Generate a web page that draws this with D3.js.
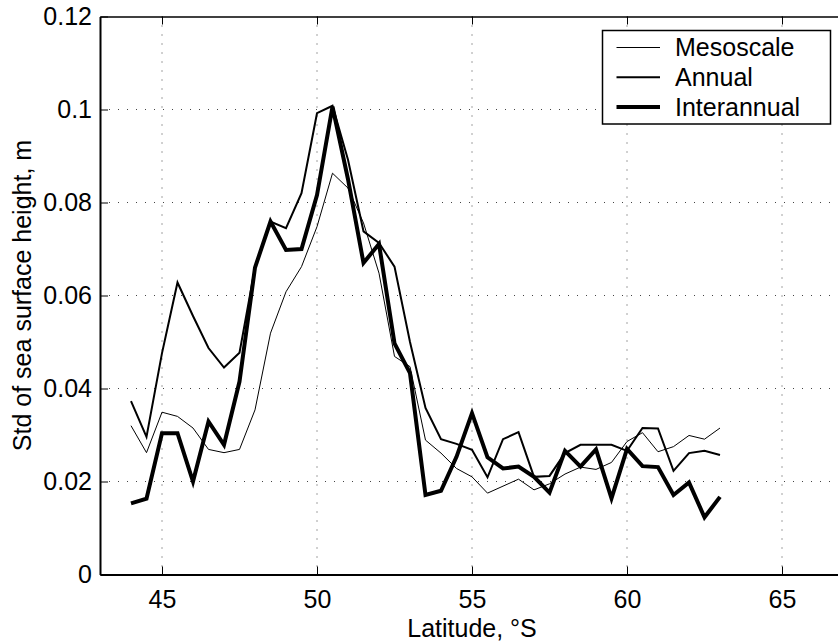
<!DOCTYPE html>
<html>
<head>
<meta charset="utf-8">
<script src="https://cdn.jsdelivr.net/npm/d3@7"></script>
<style>
	body { margin: 0; background: #fff; }
	svg { display: block; }
	text { font-family: "Liberation Sans", Arial, sans-serif; fill: #000; }
</style>
</head>
<body>
<svg width="838" height="644"></svg>
<script>
/* jshint esversion:6 */
/* global d3 */

// latitude, degrees south, every half degree
let latitude = d3.range(44, 63.01, 0.5),
	mesoscale = [
		0.0320, 0.0262, 0.0349, 0.0340, 0.0315, 0.0269, 0.0262, 0.0269,
		0.0354, 0.0519, 0.0608, 0.0662, 0.0748, 0.0863, 0.0831, 0.0756,
		0.0648, 0.0469, 0.0447, 0.0289, 0.0261, 0.0228, 0.0210, 0.0175,
		0.0190, 0.0205, 0.0182, 0.0195, 0.0216, 0.0231, 0.0226, 0.0241,
		0.0286, 0.0305, 0.0264, 0.0275, 0.0299, 0.0291, 0.0315
	],
	annual = [
		0.0373, 0.0296, 0.0476, 0.0628, 0.0556, 0.0487, 0.0445, 0.0477,
		0.0660, 0.0759, 0.0745, 0.0820, 0.0992, 0.1008, 0.0892, 0.0738,
		0.0713, 0.0662, 0.0500, 0.0358, 0.0291, 0.0281, 0.0268, 0.0209,
		0.0291, 0.0306, 0.0210, 0.0212, 0.0261, 0.0279, 0.0279, 0.0279,
		0.0266, 0.0315, 0.0314, 0.0223, 0.0261, 0.0266, 0.0257
	],
	interannual = [
		0.0153, 0.0163, 0.0304, 0.0304, 0.0200, 0.0329, 0.0279, 0.0415,
		0.0660, 0.0759, 0.0698, 0.0700, 0.0816, 0.1006, 0.0850, 0.0670,
		0.0711, 0.0497, 0.0433, 0.0171, 0.0180, 0.0253, 0.0347, 0.0252,
		0.0228, 0.0232, 0.0210, 0.0176, 0.0266, 0.0232, 0.0269, 0.0164,
		0.0270, 0.0233, 0.0231, 0.0171, 0.0198, 0.0123, 0.0167
	],
	seriesNames = ['Mesoscale', 'Annual', 'Interannual'],
	xTicks = [45, 50, 55, 60, 65],
	yTicks = [0, 0.02, 0.04, 0.06, 0.08, 0.1, 0.12];

function chart() {
	var svg = d3.select('svg'),
		margin = {left: 100, top: 16.5, right: -6, bottom: 69.5},
		width = svg.attr('width') - margin.left - margin.right,
		height = svg.attr('height') - margin.top - margin.bottom,
		x = d3.scaleLinear().domain([43, 67]).range([0, width]),
		y = d3.scaleLinear().domain([0, 0.12]).range([height, 0]),
		widths = [1, 2, 4],
		allSeries = [mesoscale, annual, interannual],
		g = svg.append('g').attr('transform', 'translate(' + margin.left + ',' + margin.top + ')'),
		line = d3.line()
			.x(function(d, i) { return x(latitude[i]); })
			.y(function(d) { return y(d); }),
		legend,
		index;

	// dotted grid
	g.selectAll('.vgrid')
		.data(xTicks)
		.enter().append('line')
			.attr('x1', function(d) { return x(d); })
			.attr('x2', function(d) { return x(d); })
			.attr('y1', 0)
			.attr('y2', height)
			.attr('stroke', '#444')
			.attr('stroke-width', 1)
			.attr('stroke-dasharray', '1,8');

	g.selectAll('.hgrid')
		.data(yTicks.slice(1, -1))
		.enter().append('line')
			.attr('x1', 0)
			.attr('x2', width)
			.attr('y1', function(d) { return y(d); })
			.attr('y2', function(d) { return y(d); })
			.attr('stroke', '#444')
			.attr('stroke-width', 1)
			.attr('stroke-dasharray', '1,8');

	// axes, ticks pointing in like matlab
	g.append('g')
		.attr('transform', 'translate(0,' + height + ')')
		.call(d3.axisBottom(x).tickValues(xTicks).tickSizeInner(-8).tickSizeOuter(0).tickPadding(16).tickFormat(d3.format('d')))
		.call(function(a) {
			a.select('.domain').attr('stroke-width', 2);
			a.selectAll('text').style('font-size', '25px');
		});

	g.append('g')
		.call(d3.axisTop(x).tickValues(xTicks).tickSizeInner(-8).tickSizeOuter(0).tickFormat(''))
		.call(function(a) { a.select('.domain').attr('stroke-width', 1.5); });

	g.append('g')
		.call(d3.axisLeft(y).tickValues(yTicks).tickSizeInner(-8).tickSizeOuter(0).tickPadding(8).tickFormat(d3.format('~g')))
		.call(function(a) {
			a.select('.domain').attr('stroke-width', 2);
			a.selectAll('text').style('font-size', '25px');
		});

	// series
	for (index = 0; index < allSeries.length; index++) {
		g.append('path')
			.datum(allSeries[index])
			.attr('fill', 'none')
			.attr('stroke', '#000')
			.attr('stroke-width', widths[index])
			.attr('stroke-linejoin', 'miter')
			.attr('d', line);
	}

	// axis titles
	svg.append('text')
		.attr('x', 472)
		.attr('y', 637)
		.attr('text-anchor', 'middle')
		.style('font-size', '25px')
		.text('Latitude, \u00B0S');

	svg.append('text')
		.attr('transform', 'translate(31,' + (margin.top + height / 2) + ') rotate(-90)')
		.attr('text-anchor', 'middle')
		.style('font-size', '25px')
		.text('Std of sea surface height, m');

	// legend
	legend = svg.append('g').attr('transform', 'translate(602.5,30.5)');
	legend.append('rect')
		.attr('width', 228)
		.attr('height', 93.5)
		.attr('fill', '#fff')
		.attr('stroke', '#000')
		.attr('stroke-width', 1.5);

	for (index = 0; index < seriesNames.length; index++) {
		legend.append('line')
			.attr('x1', 14)
			.attr('x2', 57.5)
			.attr('y1', 17 + index * 29.8)
			.attr('y2', 17 + index * 29.8)
			.attr('stroke', '#000')
			.attr('stroke-width', widths[index]);
		legend.append('text')
			.attr('x', 72.5)
			.attr('y', 17 + index * 29.8)
			.attr('dy', '0.35em')
			.style('font-size', '25px')
			.text(seriesNames[index]);
	}
}

chart();
</script>
</body>
</html>
